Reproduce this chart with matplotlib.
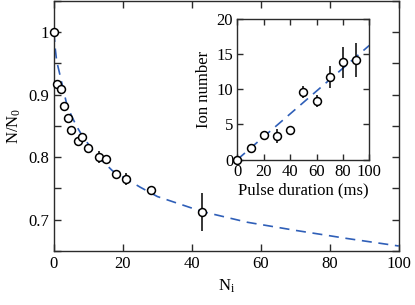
import matplotlib
matplotlib.use("Agg")
import matplotlib.pyplot as plt
from matplotlib.ticker import MultipleLocator

plt.rcParams['font.family'] = ['Liberation Serif', 'DejaVu Serif']
plt.rcParams['mathtext.fontset'] = 'custom'
plt.rcParams['mathtext.rm'] = 'Liberation Serif'
plt.rcParams['mathtext.it'] = 'Liberation Serif'

# main panel: normalised number vs N_i
n_i = [0, 1, 2, 3, 4, 5, 7, 8, 10, 13, 15, 18, 21, 28, 43]
frac = [1.0, 0.917, 0.909, 0.881, 0.862, 0.843, 0.825, 0.832, 0.814,
        0.800, 0.797, 0.773, 0.765, 0.747, 0.712]
frac_err = [0, 0.004, 0.004, 0.005, 0.005, 0.006, 0.006, 0.006, 0.007,
            0.010, 0.007, 0.007, 0.010, 0.005, 0.030]

# fit curve
fit_n = [0, 0.4, 0.8, 1.5, 2, 3.6, 5, 6.5, 8, 12, 17, 25, 30, 43, 56, 70, 85, 100]
fit_frac = [1.0, 0.972, 0.953, 0.937, 0.925, 0.887, 0.867, 0.850, 0.836, 0.805,
            0.778, 0.752, 0.737, 0.713, 0.696, 0.683, 0.670, 0.658]

# inset: ion number vs pulse duration
pulse = [0, 10, 20, 30, 40, 50, 60, 70, 80, 90]
ions = [0, 1.6, 3.5, 3.3, 4.2, 9.6, 8.3, 11.7, 13.8, 14.1]
ions_err = [0, 0.3, 0.4, 1.0, 0.4, 0.8, 0.8, 1.6, 2.2, 2.4]
inset_fit_t = [0, 100]
inset_fit_n = [0, 16.2]

blue = '#2f5fb8'
dark = '#2b2b2b'

fig = plt.figure(figsize=(4.15, 3.05), dpi=100)
ax = fig.add_axes([0.130, 0.177, 0.831, 0.821])

ax.plot(fit_n, fit_frac, '--', color=blue, lw=1.2, dashes=(6, 4), zorder=2)
ax.errorbar(n_i, frac, yerr=frac_err, fmt='o', mfc='white', mec='black', mew=1.1,
            ms=5.7, ecolor='black', elinewidth=1.1, capsize=0, zorder=3, clip_on=False)

ax.set_xlim(0, 100)
ax.set_ylim(0.65, 1.05)
ax.xaxis.set_major_locator(MultipleLocator(20))
ax.yaxis.set_minor_locator(MultipleLocator(0.05))
ax.set_yticks([0.7, 0.8, 0.9, 1.0])
ax.set_yticklabels(['0.7', '0.8', '0.9', '1'])
ax.tick_params(which='both', direction='in', top=True, right=True, labelsize=12,
               color=dark, width=1, length=5)
for s in ax.spines.values():
    s.set_color(dark)
    s.set_linewidth(1)
ax.set_xlabel(r'N$_\mathrm{i}$', fontsize=12, labelpad=4)
ax.set_ylabel(r'N/N$_0$', fontsize=12, labelpad=4)

ins = fig.add_axes([0.572, 0.477, 0.318, 0.462])
ins.plot(inset_fit_t, inset_fit_n, '--', color=blue, lw=1.2, dashes=(6, 4), zorder=2)
ins.errorbar(pulse, ions, yerr=ions_err, fmt='o', mfc='white', mec='black', mew=1.1,
             ms=5.7, ecolor='black', elinewidth=1.1, capsize=0, zorder=3, clip_on=False)
ins.set_xlim(0, 100)
ins.set_ylim(0, 20)
ins.xaxis.set_major_locator(MultipleLocator(20))
ins.yaxis.set_major_locator(MultipleLocator(5))
ins.tick_params(direction='in', top=True, right=True, labelsize=12, length=4,
                color=dark, width=1, pad=3)
for s in ins.spines.values():
    s.set_color(dark)
    s.set_linewidth(1)
ins.set_xlabel('Pulse duration (ms)', fontsize=12, labelpad=2)
ins.set_ylabel('Ion number', fontsize=12, labelpad=3)

fig.savefig('out.png', dpi=100)
